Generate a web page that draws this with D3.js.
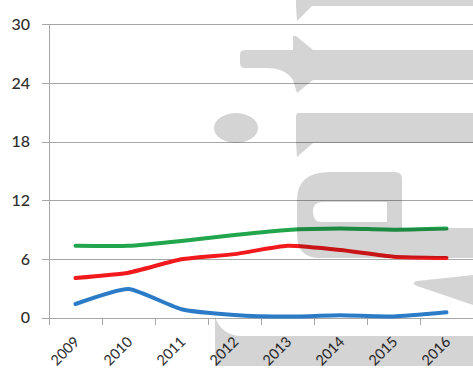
<!DOCTYPE html>
<html>
<head>
<meta charset="utf-8">
<script src="https://cdn.jsdelivr.net/npm/d3@7/dist/d3.min.js"></script>
<style>
  html, body { margin: 0; padding: 0; background: #fff; }
  svg { display: block; }
</style>
</head>
<body>
<script>
const years = ["2009", "2010", "2011", "2012", "2013", "2014", "2015", "2016"];
const greenValues = [7.35, 7.35, 7.85, 8.45, 8.97, 9.12, 9.0, 9.12];
const redValues = [4.06, 4.6, 5.97, 6.5, 7.35, 6.92, 6.24, 6.1];
const blueValues = [1.4, 2.93, 0.86, 0.28, 0.12, 0.25, 0.12, 0.55];
const yTicks = [0, 6, 12, 18, 24, 30];

const seriesList = [
  { name: "green", values: greenValues, color: "#22a64d" },
  { name: "red", values: redValues, color: "#f2191c" },
  { name: "blue", values: blueValues, color: "#2b7bc7" }
];

const W = 473, H = 369;
const svg = d3.select("body").append("svg").attr("width", W).attr("height", H);
svg.append("rect").attr("width", W).attr("height", H).attr("fill", "#fff");

const x = d3.scaleBand().domain(years).range([49, 473]).padding(0);
const y = d3.scaleLinear().domain([0, 30]).range([317.7, 24.3]);

// gridlines + y tick labels
const yAxis = d3.axisLeft(y).tickValues(yTicks).tickSize(-(473 - 42)).tickPadding(12).tickFormat(d3.format("d"));
const gy = svg.append("g").attr("transform", "translate(42,0)").call(yAxis);
gy.select(".domain").remove();
gy.selectAll(".tick line").attr("stroke", "#a6a6a6").attr("stroke-width", 1).attr("shape-rendering", "crispEdges");
gy.selectAll(".tick text").attr("font-family", "Lato, 'Open Sans', sans-serif").attr("font-size", 16)
  .attr("font-weight", 500).attr("fill", "#2e2e2e").attr("x", -12);

// y axis line
svg.append("line").attr("x1", 49.5).attr("x2", 49.5).attr("y1", y(30)).attr("y2", y(0))
  .attr("stroke", "#a6a6a6").attr("shape-rendering", "crispEdges");

// x axis
const edges = years.map(d => x(d)).concat([x(years[years.length - 1]) + x.bandwidth()]);
svg.append("g").selectAll("line").data(edges).join("line")
  .attr("x1", d => d + 0.5).attr("x2", d => d + 0.5).attr("y1", y(0)).attr("y2", y(0) + 7)
  .attr("stroke", "#a6a6a6").attr("shape-rendering", "crispEdges");

svg.append("g").selectAll("text").data(years).join("text")
  .attr("transform", d => `translate(${x(d) + x.bandwidth() / 2 + 5},${y(0) + 25}) rotate(-45)`)
  .attr("text-anchor", "end")
  .attr("font-family", "Lato, 'Open Sans', sans-serif")
  .attr("font-size", 14.5)
  .attr("fill", "#2e2e2e")
  .text(d => d);

// lines
const line = d3.line()
  .x((d, i) => x(years[i]) + x.bandwidth() / 2)
  .y(d => y(d))
  .curve(d3.curveCardinal.tension(0.5));

svg.append("g").selectAll("path").data(seriesList).join("path")
  .attr("d", s => line(s.values))
  .attr("fill", "none")
  .attr("stroke", s => s.color)
  .attr("stroke-width", 4)
  .attr("stroke-linecap", "round")
  .attr("stroke-linejoin", "round");

// watermark overlay (decorative)
const wm = svg.append("g").attr("fill", "#000").attr("fill-opacity", 0.17);
wm.append("path").attr("d", "M296,0 L473,0 L473,6 L312,6 L297,21 L296,6 Z");
wm.append("path").attr("d", "M245,50 L293,50 L293,36 L296,36 L313,50 L473,50 L473,80 L313,80 L297,93 L293,80 Q285,68 267,68 L245,68 Q240,68 240,63 L240,55 Q240,50 245,50 Z");
wm.append("ellipse").attr("cx", 236).attr("cy", 128).attr("rx", 22).attr("ry", 15);
wm.append("path").attr("d", "M299,113 L473,113 L473,143 L313,143 L297,157 L296,143 L296,116 Q296,113 299,113 Z");
wm.append("path").attr("fill-rule", "evenodd")
  .attr("d", "M330,172 L395,172 Q402,172 402,179 L402,228 L473,228 L473,258 L320,258 Q297,258 297,235 L297,200 Q297,172 330,172 Z M387,202 L387,222 L322,222 Q313,222 313,212 Q313,202 322,202 Z");
wm.append("path").attr("d", "M473,275 L473,305 L417,286 Q410,283 417,281 Z");
wm.append("path").attr("d", "M215,317 Q222,336 242,336 L473,336 L473,366 L215,366 Z");
</script>
</body>
</html>
